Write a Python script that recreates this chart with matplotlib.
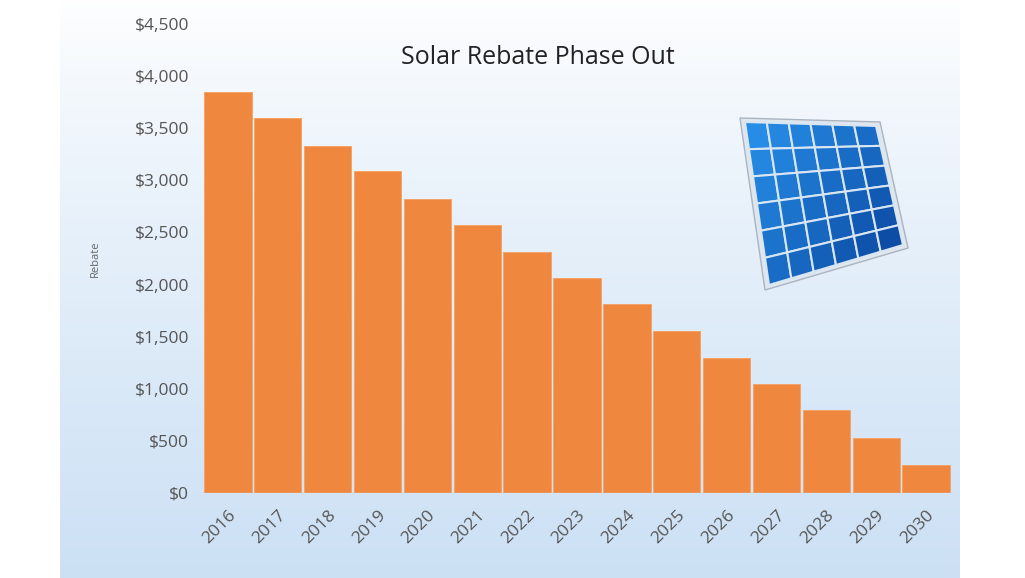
import numpy as np
import matplotlib.pyplot as plt
from matplotlib.patches import Polygon

plt.rcParams['font.family'] = ['Open Sans', 'DejaVu Sans']

years = ['2016', '2017', '2018', '2019', '2020', '2021', '2022', '2023',
         '2024', '2025', '2026', '2027', '2028', '2029', '2030']
rebate = [3850, 3600, 3330, 3090, 2820, 2570, 2310, 2060,
          1810, 1555, 1295, 1045, 795, 530, 270]
y_ticks = [0, 500, 1000, 1500, 2000, 2500, 3000, 3500, 4000, 4500]

fig = plt.figure(figsize=(10.25, 5.78), dpi=100)

# background gradient panel
bg = fig.add_axes([60/1025, 0, 900/1025, 1])
grad = np.linspace(0, 1, 256).reshape(-1, 1)
top = np.array([1.0, 1.0, 1.0])
bot = np.array([0.80, 0.88, 0.96])
img = top + (bot - top) * grad[..., None] ** 0.8
bg.imshow(img, aspect='auto', extent=[0, 1, 0, 1])
bg.set_axis_off()

ax = fig.add_axes([203/1025, 85/578, 748/1025, 469/578])
ax.patch.set_alpha(0)
x = np.arange(len(years))
ax.bar(x, rebate, width=0.95, color='#f0873f', edgecolor='#f5a060', linewidth=0.6)
ax.set_xlim(-0.5, len(years) - 0.5)
ax.set_ylim(0, 4500)
ax.set_yticks(y_ticks)
ax.set_yticklabels(['${:,}'.format(v) for v in y_ticks], fontsize=12.5, color='#555555')
ax.set_xticks(x)
ax.set_xticklabels(years, rotation=45, ha='right', rotation_mode='anchor',
                   fontsize=12.5, color='#555555')
ax.tick_params(length=0, pad=10)
for s in ax.spines.values():
    s.set_visible(False)
ax.set_ylabel('Rebate', fontsize=8, color='#666666', labelpad=24)
ax.axhline(0, color='#cccccc', linewidth=1)

fig.text(538/1025, 1 - 57/578, 'Solar Rebate Phase Out', ha='center', va='center',
         fontsize=18, color='#222222')

# solar panel drawing (figure pixel coords, y from top)
def P(px, py):
    return (px / 1025, 1 - py / 578)

corners = [(740, 118), (880, 122), (908, 248), (765, 290)]
fig.patches.append(Polygon([P(*c) for c in corners], closed=True, transform=fig.transFigure,
                           facecolor='#dfe6ee', edgecolor='#aab4c0', linewidth=1))
inner = [(745, 122), (876, 126), (903, 245), (769, 285)]
def lerp(a, b, t):
    return (a[0] + (b[0] - a[0]) * t, a[1] + (b[1] - a[1]) * t)
nr, nc = 6, 6
for i in range(nr):
    for j in range(nc):
        pts = []
        for (ti, tj) in [(i, j), (i, j + 1), (i + 1, j + 1), (i + 1, j)]:
            l = lerp(inner[0], inner[3], ti / nr)
            r = lerp(inner[1], inner[2], ti / nr)
            p = lerp(l, r, tj / nc)
            pts.append(P(*p))
        t = (i + j) / (nr + nc - 2)
        col = (0.15 - 0.1 * t, 0.55 - 0.25 * t, 0.90 - 0.25 * t)
        fig.patches.append(Polygon(pts, closed=True, transform=fig.transFigure,
                                   facecolor=col, edgecolor='#d8e6f4', linewidth=1.5))

fig.savefig('out.png', dpi=100)
